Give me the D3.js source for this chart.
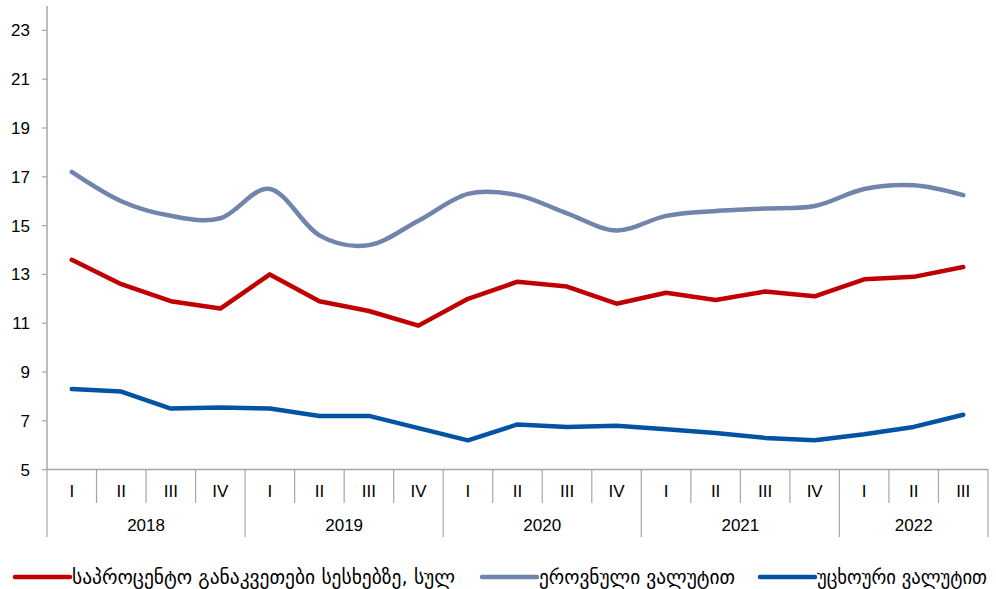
<!DOCTYPE html>
<html>
<head>
<meta charset="utf-8">
<script src="https://cdn.jsdelivr.net/npm/d3@7"></script>
<style>
  body { margin: 0; background: #fff; }
  svg text { font-family: "Liberation Sans", Arial, sans-serif; fill: #000; }
</style>
</head>
<body>
<svg id="chart" width="996" height="589"></svg>
<script>
const years = ['2018', '2019', '2020', '2021', '2022']
const quarters = ['I', 'II', 'III', 'IV', 'I', 'II', 'III', 'IV', 'I', 'II', 'III', 'IV', 'I', 'II', 'III', 'IV', 'I', 'II', 'III']
const quartersPerYear = [4, 4, 4, 4, 3]
const yTicks = [5, 7, 9, 11, 13, 15, 17, 19, 21, 23]

const totalRate = [13.6, 12.6, 11.9, 11.6, 13.0, 11.9, 11.5, 10.9, 12.0, 12.7, 12.5, 11.8, 12.25, 11.95, 12.3, 12.1, 12.8, 12.9, 13.3]
const nationalRate = [17.2, 16.0, 15.4, 15.3, 16.5, 14.6, 14.2, 15.2, 16.3, 16.25, 15.5, 14.8, 15.4, 15.6, 15.7, 15.8, 16.5, 16.65, 16.25]
const foreignRate = [8.3, 8.2, 7.5, 7.55, 7.5, 7.2, 7.2, 6.7, 6.2, 6.85, 6.75, 6.8, 6.65, 6.5, 6.3, 6.2, 6.45, 6.75, 7.25]

const seriesNames = ['საპროცენტო განაკვეთები სესხებზე, სულ', 'ეროვნული ვალუტით', 'უცხოური ვალუტით']
const seriesColors = ['#C00000', '#7084AC', '#0353A5']

const svg = d3.select('#chart')
const L = 47, R = 988, T = 6, B = 469.6
const axisColor = '#A6A6A6'

const idx = d3.range(quarters.length)
const x = d3.scaleBand().domain(idx).range([L, R])
const y = d3.scaleLinear().domain([5, 24]).range([B, T])
const xc = function (i) { return x(i) + x.bandwidth() / 2 }

// y axis
svg.append('line').attr('x1', L).attr('x2', L).attr('y1', T).attr('y2', B)
  .attr('stroke', axisColor).attr('stroke-width', 1.5)
svg.selectAll('line.ytick').data(yTicks).join('line').attr('class', 'ytick')
  .attr('x1', L - 5).attr('x2', L).attr('y1', d => y(d)).attr('y2', d => y(d))
  .attr('stroke', axisColor).attr('stroke-width', 1.2)
svg.selectAll('text.ylab').data(yTicks).join('text').attr('class', 'ylab')
  .attr('x', 30).attr('y', d => y(d)).attr('dy', '0.35em').attr('text-anchor', 'end')
  .attr('font-size', 17).text(d => d)

// x axis
svg.append('line').attr('x1', L).attr('x2', R).attr('y1', B).attr('y2', B)
  .attr('stroke', axisColor).attr('stroke-width', 1.5)
const qb = d3.range(quarters.length + 1)
svg.selectAll('line.qtick').data(qb).join('line').attr('class', 'qtick')
  .attr('x1', d => L + d * x.step()).attr('x2', d => L + d * x.step())
  .attr('y1', B).attr('y2', 503)
  .attr('stroke', axisColor).attr('stroke-width', 1.2)
svg.selectAll('text.qlab').data(quarters).join('text').attr('class', 'qlab')
  .attr('x', (d, i) => xc(i)).attr('y', 491).attr('dy', '0.35em').attr('text-anchor', 'middle')
  .attr('font-size', 17).text(d => d)

const yb = [0]
quartersPerYear.forEach(function (n) { yb.push(yb[yb.length - 1] + n) })
svg.selectAll('line.ytk').data(yb).join('line').attr('class', 'ytk')
  .attr('x1', d => L + d * x.step()).attr('x2', d => L + d * x.step())
  .attr('y1', 503).attr('y2', 537)
  .attr('stroke', axisColor).attr('stroke-width', 1.2)
svg.selectAll('text.yrlab').data(years).join('text').attr('class', 'yrlab')
  .attr('x', (d, i) => L + (yb[i] + yb[i + 1]) / 2 * x.step()).attr('y', 525).attr('dy', '0.35em')
  .attr('text-anchor', 'middle').attr('font-size', 17).text(d => d)

// lines
const lineStraight = d3.line().x((d, i) => xc(i)).y(d => y(d))
const lineSmooth = d3.line().x((d, i) => xc(i)).y(d => y(d)).curve(d3.curveCardinal.tension(0))
const data = [totalRate, nationalRate, foreignRate]
svg.selectAll('path.series').data(data).join('path').attr('class', 'series')
  .attr('fill', 'none').attr('stroke', (d, i) => seriesColors[i]).attr('stroke-width', 4.5)
  .attr('stroke-linejoin', 'round').attr('stroke-linecap', 'round')
  .attr('d', (d, i) => i === 1 ? lineSmooth(d) : lineStraight(d))

// legend
const legendX = [15, 482, 760]
const legendW = [383, 196, 170]
const lg = svg.selectAll('g.legend').data(seriesNames).join('g').attr('class', 'legend')
  .attr('transform', (d, i) => 'translate(' + legendX[i] + ',577)')
lg.append('line').attr('x1', 0).attr('x2', 55).attr('y1', 0).attr('y2', 0)
  .attr('stroke', (d, i) => seriesColors[i]).attr('stroke-width', 4.5).attr('stroke-linecap', 'round')
lg.append('text').attr('x', 57).attr('dy', '0.35em').attr('font-size', 19)
  .attr('textLength', (d, i) => legendW[i]).attr('lengthAdjust', 'spacingAndGlyphs')
  .style('font-family', '"DejaVu Sans", sans-serif').text(d => d)
</script>
</body>
</html>
